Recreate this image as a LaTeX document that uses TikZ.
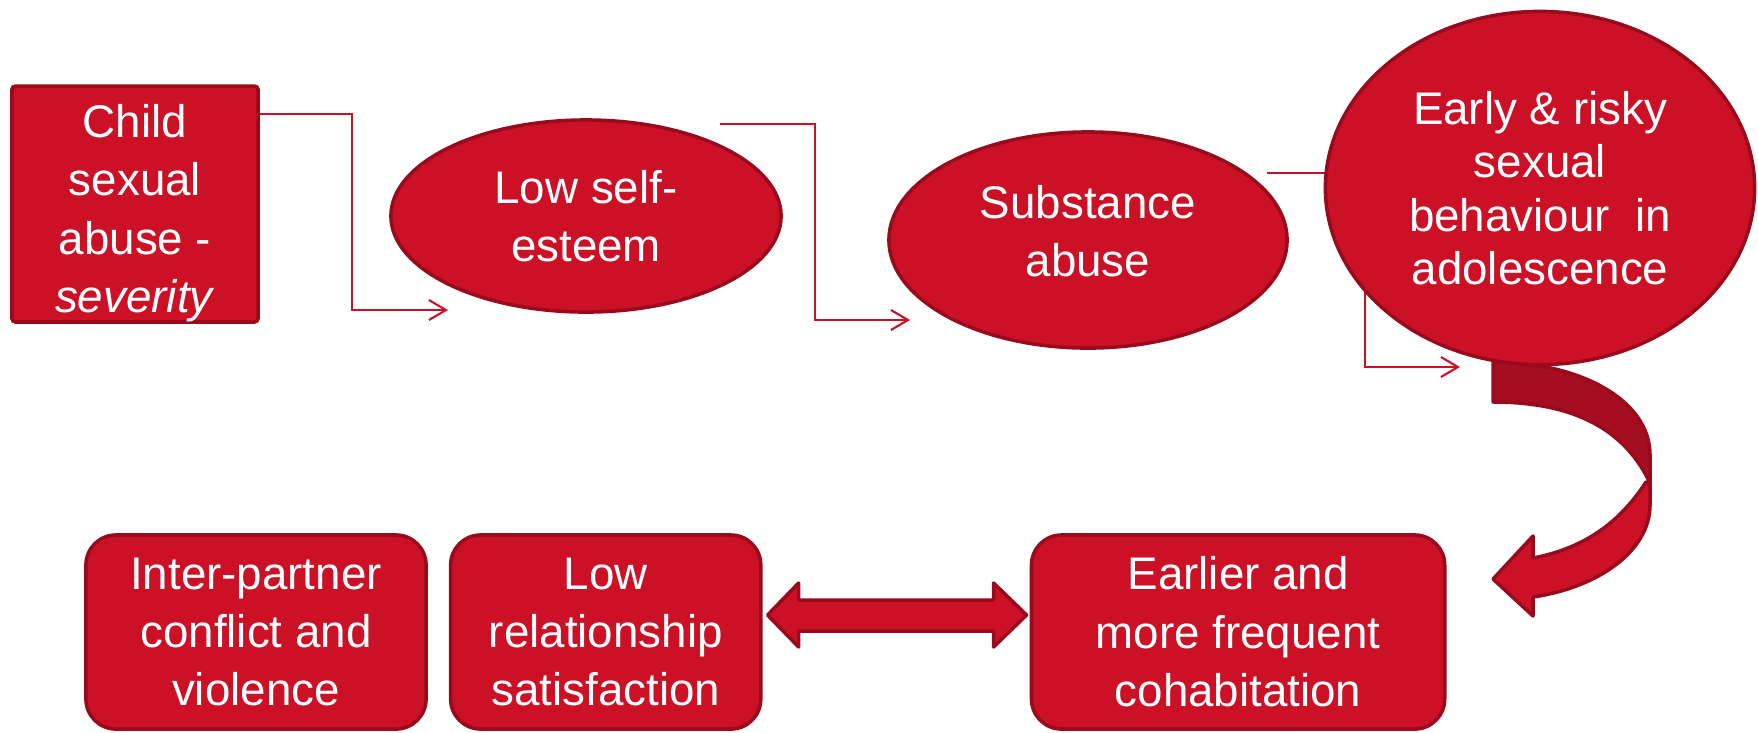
\documentclass[tikz,border=0pt]{standalone}
\usepackage{fontspec}
\setmainfont{Liberation Sans}
\usetikzlibrary{shapes.geometric,arrows.meta,calc,positioning}
\definecolor{boxred}{HTML}{CC1127}
\definecolor{edgered}{HTML}{990A1C}
\definecolor{bandred}{HTML}{A50E20}

\begin{document}
\begin{tikzpicture}[x=0.01cm,y=-0.01cm,
  every node/.style={text=white,font=\fontsize{13}{16.6}\selectfont,align=center,inner sep=0pt},
  block/.style={fill=boxred,draw=edgered,line width=1pt},
  oval/.style={block,ellipse},
  card/.style={block,rounded corners=0.3cm,minimum height=1.94cm},
  link/.style={draw=boxred,line width=0.6pt,-{Straight Barb[length=1.7mm,width=2mm]}}]
  \useasboundingbox (0,0) rectangle (1758,732);

  % Top row
  \node[block,rounded corners=1pt,minimum width=2.46cm,minimum height=2.31cm] (child) at (135,204)
    {\rule{0pt}{14.6pt}Child\\sexual\\abuse -\\\textit{severity}};
  \node[oval,minimum width=3.9cm,minimum height=1.92cm] (esteem) at (586,216) {Low self-\\esteem};
  \node[oval,minimum width=3.98cm,minimum height=2.16cm] (substance) at (1088,240)
    {Substance\\abuse\rule[-5.1pt]{0pt}{0pt}};

  % Elbow links
  \coordinate (e1) at (448,310);
  \coordinate (e2) at (910,320);
  \coordinate (e3) at (1460,367);
  \draw[link] ($(child.north east)+(0,30)$) -| ($(e1)+(-96,0)$) -- (e1);
  \draw[link] ($(esteem.north)+(134,6)$) -| ($(e2)+(-95,0)$) -- (e2);
  \draw[link] ($(substance.north)+(179,43)$) -| ($(e3)+(-95,0)$) -- (e3);

  % Curved arrow down to the bottom row
  \draw[fill=bandred,draw=edgered,line width=1pt,line join=round]
    (1493,362) .. controls (1580,362) and (1650,400) .. (1650,455) -- (1650,483)
    .. controls (1625,430) and (1575,402) .. (1493,402) -- cycle;
  \draw[fill=boxred,draw=edgered,line width=1pt,line join=round]
    (1646,482) .. controls (1615,530) and (1575,550) .. (1533,558)
    -- (1533,536) -- (1493,579) -- (1533,616) -- (1533,597)
    .. controls (1600,587) and (1650,550) .. (1650,505) -- (1650,483) -- cycle;

  \node[oval,minimum width=4.29cm,minimum height=3.53cm,
    font=\fontsize{13}{15.2}\selectfont] (risky) at (1540,188)
    {Early \& risky\\sexual\\behaviour\ \ in\\adolescence};

  % Bottom row
  \node[card,minimum width=3.4cm] (partner) at (256,632) {Inter-partner\\conflict and\\violence};
  \node[card,minimum width=3.1cm,right=0.21cm of partner] (satisfaction) {Low\\relationship\\satisfaction};
  \node[card,minimum width=4.13cm,right=2.67cm of satisfaction] (cohab) {Earlier and\\more frequent\\cohabitation};

  % Double arrow
  \draw[fill=boxred,draw=edgered,line width=1pt,line join=round]
    ($(satisfaction.east)+(5,-17)$) -- ++(31,-32) -- ++(0,17) -- ++(195,0) -- ++(0,-17)
    -- ++(33,32) -- ++(-33,32) -- ++(0,-16) -- ++(-195,0) -- ++(0,16) -- cycle;
\end{tikzpicture}
\end{document}
